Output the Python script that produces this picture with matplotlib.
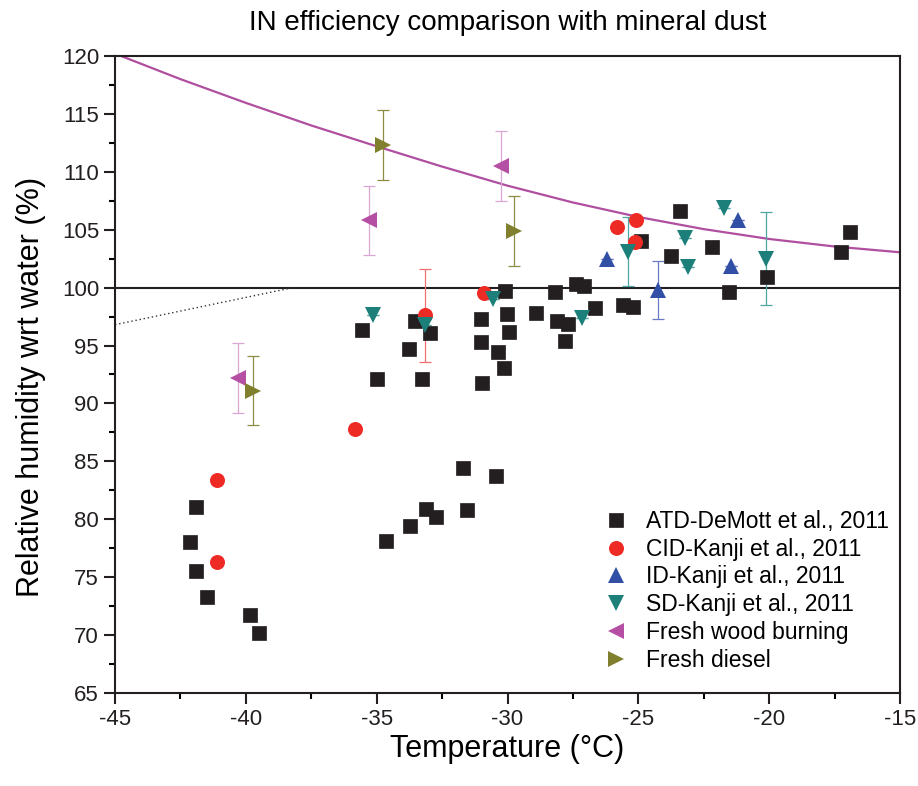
import matplotlib
matplotlib.use('Agg')
import matplotlib.pyplot as plt
from matplotlib.ticker import MultipleLocator

plt.rcParams['font.family'] = ['Liberation Sans', 'DejaVu Sans']
plt.rcParams['axes.unicode_minus'] = False

# ATD - DeMott et al., 2011
atd_T = [-42.14, -41.92, -41.92, -41.47, -39.85, -39.5, -35.58, -34.97, -34.63, -33.72,
         -33.78, -33.55, -33.27, -33.11, -32.95, -32.72, -31.7, -31.54, -31.03, -31.03,
         -30.98, -30.43, -30.37, -30.14, -30.08, -30.03, -29.96, -28.91, -28.17, -28.12,
         -27.79, -27.67, -27.38, -27.06, -26.65, -25.6, -25.22, -24.9, -23.76, -23.41,
         -22.18, -21.55, -20.1, -17.24, -16.9]
atd_RH = [78.0, 81.1, 75.5, 73.3, 71.7, 70.2, 96.3, 92.1, 78.1, 79.4,
          94.7, 97.1, 92.1, 80.9, 96.1, 80.2, 84.4, 80.8, 97.3, 95.3,
          91.8, 83.7, 94.4, 93.1, 99.7, 97.7, 96.2, 97.8, 99.6, 97.1,
          95.4, 96.9, 100.3, 100.1, 98.2, 98.5, 98.35, 104.0, 102.7, 106.6,
          103.5, 99.6, 100.9, 103.1, 104.8]

# CID - Kanji et al., 2011
cid_T = [-41.12, -41.12, -35.84, -33.14, -30.9, -25.82, -25.1, -25.12]
cid_RH = [83.4, 76.3, 87.8, 97.6, 99.5, 105.2, 105.8, 103.9]
cid_err = [0, 0, 0, 4.0, 0, 0, 0, 0]

# ID - Kanji et al., 2011
id_T = [-26.2, -24.24, -21.47, -21.21]
id_RH = [102.5, 99.8, 101.9, 105.8]
id_err = [0, 2.5, 0, 0]

# SD - Kanji et al., 2011
sd_T = [-35.14, -33.14, -30.56, -27.15, -25.41, -23.21, -23.1, -21.72, -20.13]
sd_RH = [97.6, 96.8, 99.0, 97.4, 103.1, 104.3, 101.8, 106.9, 102.5]
sd_err = [0, 0, 0, 0, 3.0, 0, 0, 0, 4.0]

# Fresh wood burning
wood_T = [-40.29, -35.29, -30.24]
wood_RH = [92.2, 105.8, 110.5]
wood_err = [3.0, 3.0, 3.0]

# Fresh diesel
diesel_T = [-39.72, -34.76, -29.77]
diesel_RH = [91.1, 112.3, 104.9]
diesel_err = [3.0, 3.0, 3.0]

# reference curve
curve_T = [-45.0, -42.5, -40.0, -37.5, -35.0, -32.5, -30.0, -27.5, -25.0, -22.5, -20.0, -17.5, -15.0]
curve_RH = [120.2, 118.0, 115.95, 114.0, 112.2, 110.45, 108.8, 107.35, 106.1, 105.05, 104.2, 103.55, 103.05]

# dotted extension
dot_T = [-45.0, -38.2]
dot_RH = [96.8, 100.0]

fig = plt.figure(figsize=(9.18, 7.86), dpi=100)
ax = fig.add_axes([0.1253, 0.1183, 0.8551, 0.8105])

ax.plot(curve_T, curve_RH, color='#b04fa0', lw=1.6, zorder=2)
ax.axhline(100, color='#231f20', lw=1.5, zorder=2)
ax.plot(dot_T, dot_RH, color='#333333', lw=1.0, linestyle=(0, (1, 2)), zorder=2)

# error bars
ax.errorbar(cid_T, cid_RH, yerr=cid_err, fmt='none', ecolor='#f07070', elinewidth=0.9, capsize=4.5, capthick=0.9, zorder=3)
ax.errorbar(id_T, id_RH, yerr=id_err, fmt='none', ecolor='#6a7bc2', elinewidth=0.9, capsize=4.5, capthick=0.9, zorder=3)
ax.errorbar(sd_T, sd_RH, yerr=sd_err, fmt='none', ecolor='#4fa5a2', elinewidth=0.9, capsize=4.5, capthick=0.9, zorder=3)
ax.errorbar(wood_T, wood_RH, yerr=wood_err, fmt='none', ecolor='#dba6d3', elinewidth=0.9, capsize=4.5, capthick=0.9, zorder=3)
ax.errorbar(diesel_T, diesel_RH, yerr=diesel_err, fmt='none', ecolor='#8c8c45', elinewidth=0.9, capsize=4.5, capthick=0.9, zorder=3)

ax.plot(atd_T, atd_RH, 's', color='#231f20', ms=9.6, mec='#231f20', mew=0.5, label='ATD-DeMott et al., 2011', zorder=4)
ax.plot(cid_T, cid_RH, 'o', color='#ee2a24', ms=10.8, mew=0, label='CID-Kanji et al., 2011', zorder=4)
ax.plot(id_T, id_RH, '^', color='#3150a5', ms=11.5, mew=0, label='ID-Kanji et al., 2011', zorder=4)
ax.plot(sd_T, sd_RH, 'v', color='#1d7f7a', ms=11.5, mew=0, label='SD-Kanji et al., 2011', zorder=4)
ax.plot(wood_T, wood_RH, '<', color='#b44fa3', ms=11.5, mew=0, label='Fresh wood burning', zorder=4)
ax.plot(diesel_T, diesel_RH, '>', color='#7f7f2d', ms=11.5, mew=0, label='Fresh diesel', zorder=4)

ax.set_xlim(-45, -15)
ax.set_ylim(65, 120)
ax.xaxis.set_major_locator(MultipleLocator(5))
ax.xaxis.set_minor_locator(MultipleLocator(2.5))
ax.yaxis.set_major_locator(MultipleLocator(5))
ax.yaxis.set_minor_locator(MultipleLocator(2.5))
ax.tick_params(which='major', direction='out', length=8, width=1.5, labelsize=16, colors='#231f20')
ax.tick_params(which='minor', direction='out', length=4, width=1.5)
for s in ax.spines.values():
    s.set_linewidth(1.5)
    s.set_color('#231f20')

ax.set_xlabel('Temperature (\u00b0C)', fontsize=22, labelpad=3)
ax.set_ylabel('Relative humidity wrt water (%)', fontsize=22)
ax.yaxis.set_label_coords(-0.088, 0.48)
ax.set_title('IN efficiency comparison with mineral dust', fontsize=20, pad=19)

ax.legend(loc='upper left', bbox_to_anchor=(0.605, 0.302), frameon=False, fontsize=16.5,
          handletextpad=0.55, labelspacing=0.21, borderaxespad=0, handlelength=1.5)

fig.savefig('out.png', dpi=100)
